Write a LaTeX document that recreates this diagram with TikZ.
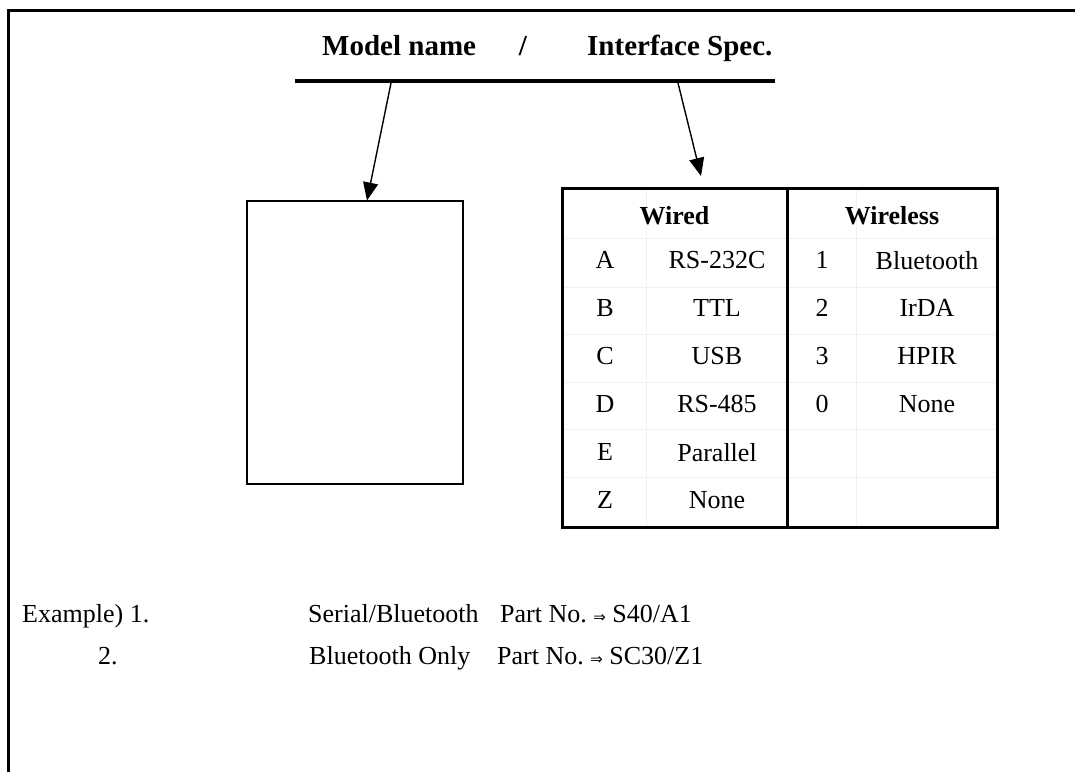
\documentclass[tikz,border=0pt]{standalone}
\usepackage{fontspec}
\setmainfont{Liberation Serif}
\newfontfamily\symf{DejaVu Sans}
\usetikzlibrary{arrows.meta}
\begin{document}
\begin{tikzpicture}[x=1pt,y=-1pt,
  body/.style={inner sep=0pt,font=\fontsize{26}{30}\selectfont},
  head/.style={inner sep=0pt,font=\fontsize{29}{33}\selectfont\bfseries},
  thead/.style={inner sep=0pt,font=\fontsize{26}{30}\selectfont\bfseries},
  arr/.style={line width=1.4pt,-{Triangle[length=18pt,width=15pt]}},
  faint/.style={line width=0.8pt,black!6}]
\useasboundingbox (0,0) rectangle (1075,772);
% frame
\draw[line width=3pt] (8.5,772) -- (8.5,10) -- (1075,10);
% header
\node[head,anchor=base west] (mn) at (322,55) {Model name};
\node[head,anchor=base] (sl) at (523,55) {/};
\node[head,anchor=base west] (is) at (587,55) {Interface Spec.};
\draw[line width=4.5pt] (295,81) -- (775,81);
\coordinate (s1) at (391,83);
\coordinate (s2) at (678,83);
% left box
\node[draw,line width=1.5pt,minimum width=216pt,minimum height=283pt,inner sep=0pt] (mbox) at (355,342.5) {};
\coordinate (t1) at (367,200.5);
\coordinate (t2) at (701,176);
\draw[arr] (s1) -- (t1);
\draw[arr] (s2) -- (t2);
% table
\foreach \y in {238,287,334,382,429,477} {\draw[faint] (562,\y) -- (997,\y);}
\foreach \x in {646,856} {\draw[faint] (\x,188) -- (\x,527);}
\node[draw,line width=3pt,minimum width=435pt,minimum height=339pt,inner sep=0pt] (tbl) at (779.5,357.5) {};
\draw[line width=3pt] (787,188) -- (787,527);
\node[thead] (wd) at (674.5,216) {Wired};
\node[thead] (wl) at (892,216) {Wireless};
\foreach \l/\n/\y [count=\i] in {A/RS-232C/263,B/TTL/311,C/USB/359,D/RS-485/407,E/Parallel/455,Z/None/503} {
  \node[body] (l\i) at (605,\y) {\vphantom{Ag}\l};
  \node[body] (n\i) at (717,\y) {\vphantom{Ag}\n};
}
\foreach \l/\n/\y [count=\i] in {1/Bluetooth/263,2/IrDA/311,3/HPIR/359,0/None/407} {
  \node[body] (m\i) at (822,\y) {\vphantom{Ag}\l};
  \node[body] (w\i) at (927,\y) {\vphantom{Ag}\n};
}
% examples
\node[body,anchor=base west] (e1) at (22,622) {Example) 1.};
\node[body,anchor=base west] (e1a) at (308,622) {Serial/Bluetooth};
\node[body,anchor=base west] (e1b) at (500,622) {Part No.\ {\symf\fontsize{15}{18}\selectfont ⇒} S40/A1};
\node[body,anchor=base west] (e2) at (98,664) {2.};
\node[body,anchor=base west] (e2a) at (309,664) {Bluetooth Only};
\node[body,anchor=base west] (e2b) at (497,664) {Part No.\ {\symf\fontsize{15}{18}\selectfont ⇒} SC30/Z1};
\end{tikzpicture}
\end{document}
